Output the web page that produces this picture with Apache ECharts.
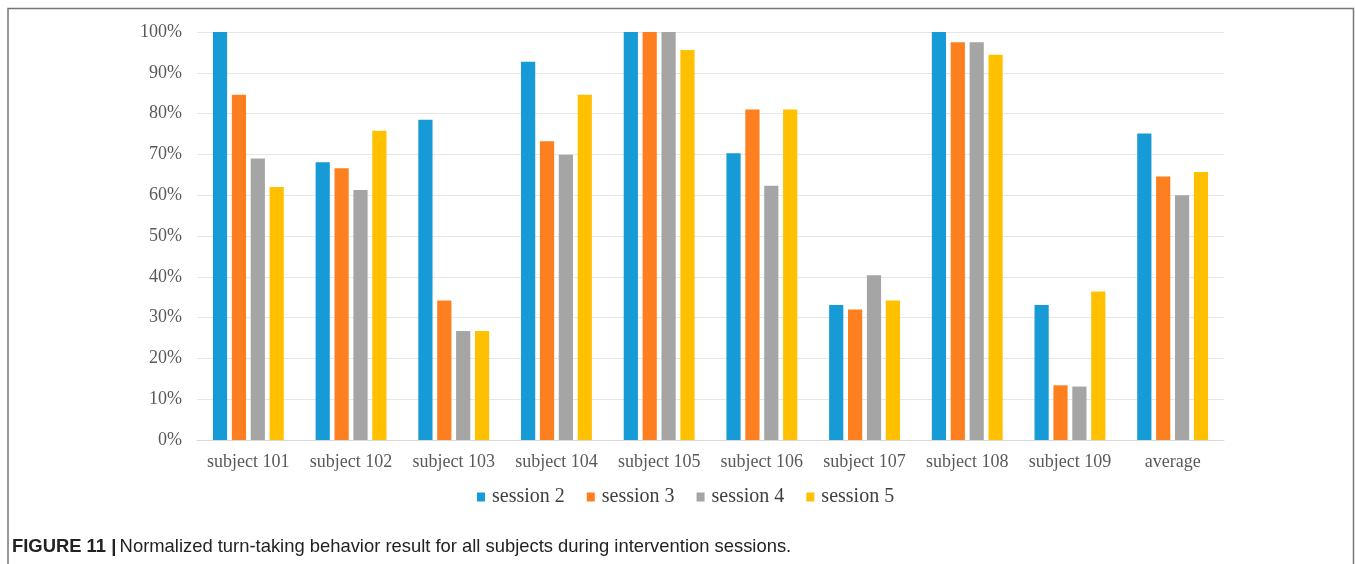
<!DOCTYPE html>
<html>
<head>
<meta charset="utf-8">
<script src="https://cdn.jsdelivr.net/npm/echarts@6/dist/echarts.min.js"></script>
<style>
  html, body { margin: 0; padding: 0; background: #ffffff; }
  #chart { width: 1355px; height: 564px; }
</style>
</head>
<body>
<div id="chart"></div>
<script>
// Categories along the x axis
const subjects = ['subject 101', 'subject 102', 'subject 103', 'subject 104', 'subject 105',
                  'subject 106', 'subject 107', 'subject 108', 'subject 109', 'average'];

// Normalized turn-taking result (%) per intervention session
const session2 = [100, 68.1, 78.5, 92.7, 100, 70.3, 33.1, 100, 33.1, 75.1];
const session3 = [84.6, 66.6, 34.2, 73.2, 100, 81.0, 32.0, 97.5, 13.4, 64.6];
const session4 = [69.0, 61.3, 26.7, 69.9, 100, 62.3, 40.4, 97.5, 13.1, 60.0];
const session5 = [62.0, 75.8, 26.7, 84.6, 95.6, 81.0, 34.2, 94.4, 36.4, 65.7];

const seriesNames = ['session 2', 'session 3', 'session 4', 'session 5'];
const seriesData = [session2, session3, session4, session5];
const seriesColors = ['#169bd7', '#fe7f20', '#a5a5a5', '#ffc000'];

const captionBold = 'FIGURE 11 |';
const captionText = 'Normalized turn-taking behavior result for all subjects during intervention sessions.';

const chart = echarts.init(document.getElementById('chart'));

const serif = '"Liberation Serif", "Times New Roman", serif';
const sans = '"Liberation Sans", Arial, sans-serif';

chart.setOption({
  animation: false,
  backgroundColor: '#ffffff',
  color: seriesColors,
  grid: { left: 197, right: 131, top: 32, bottom: 124, containLabel: false },
  legend: {
    data: seriesNames,
    left: 472,
    top: 482,
    itemWidth: 8,
    itemHeight: 9,
    itemGap: 22,
    icon: 'rect',
    textStyle: { fontFamily: serif, fontSize: 20, color: '#404040', padding: [0, 0, 0, 2] }
  },
  xAxis: {
    type: 'category',
    data: subjects,
    axisLine: { show: true, lineStyle: { color: '#d9d9d9', width: 1 } },
    axisTick: { show: false },
    axisLabel: { interval: 0, fontFamily: serif, fontSize: 18, color: '#595959', margin: 13 }
  },
  yAxis: {
    type: 'value',
    min: 0,
    max: 100,
    interval: 10,
    axisLine: { show: false },
    axisTick: { show: false },
    splitLine: { lineStyle: { color: '#e6e6e6', width: 1 } },
    axisLabel: { fontFamily: serif, fontSize: 18, color: '#595959', margin: 15, formatter: '{value}%' }
  },
  series: seriesNames.map((name, i) => ({
    name: name,
    type: 'bar',
    data: seriesData[i],
    barGap: '33%',
    barCategoryGap: '31%',
    itemStyle: { color: seriesColors[i] }
  })),
  graphic: [
    {
      type: 'polyline',
      shape: { points: [[8, 564], [8, 8.5], [1353.5, 8.5], [1353.5, 564]] },
      style: { stroke: '#777777', lineWidth: 1.5, fill: null },
      silent: true
    },
    {
      type: 'text',
      left: 12,
      top: 538,
      style: {
        text: '{b|' + captionBold + '} {r|' + captionText + '}',
        rich: {
          b: { fontFamily: sans, fontSize: 18.4, fontWeight: 'bold', fill: '#222222' },
          r: { fontFamily: sans, fontSize: 18.4, fill: '#222222' }
        }
      }
    }
  ]
});
</script>
</body>
</html>
